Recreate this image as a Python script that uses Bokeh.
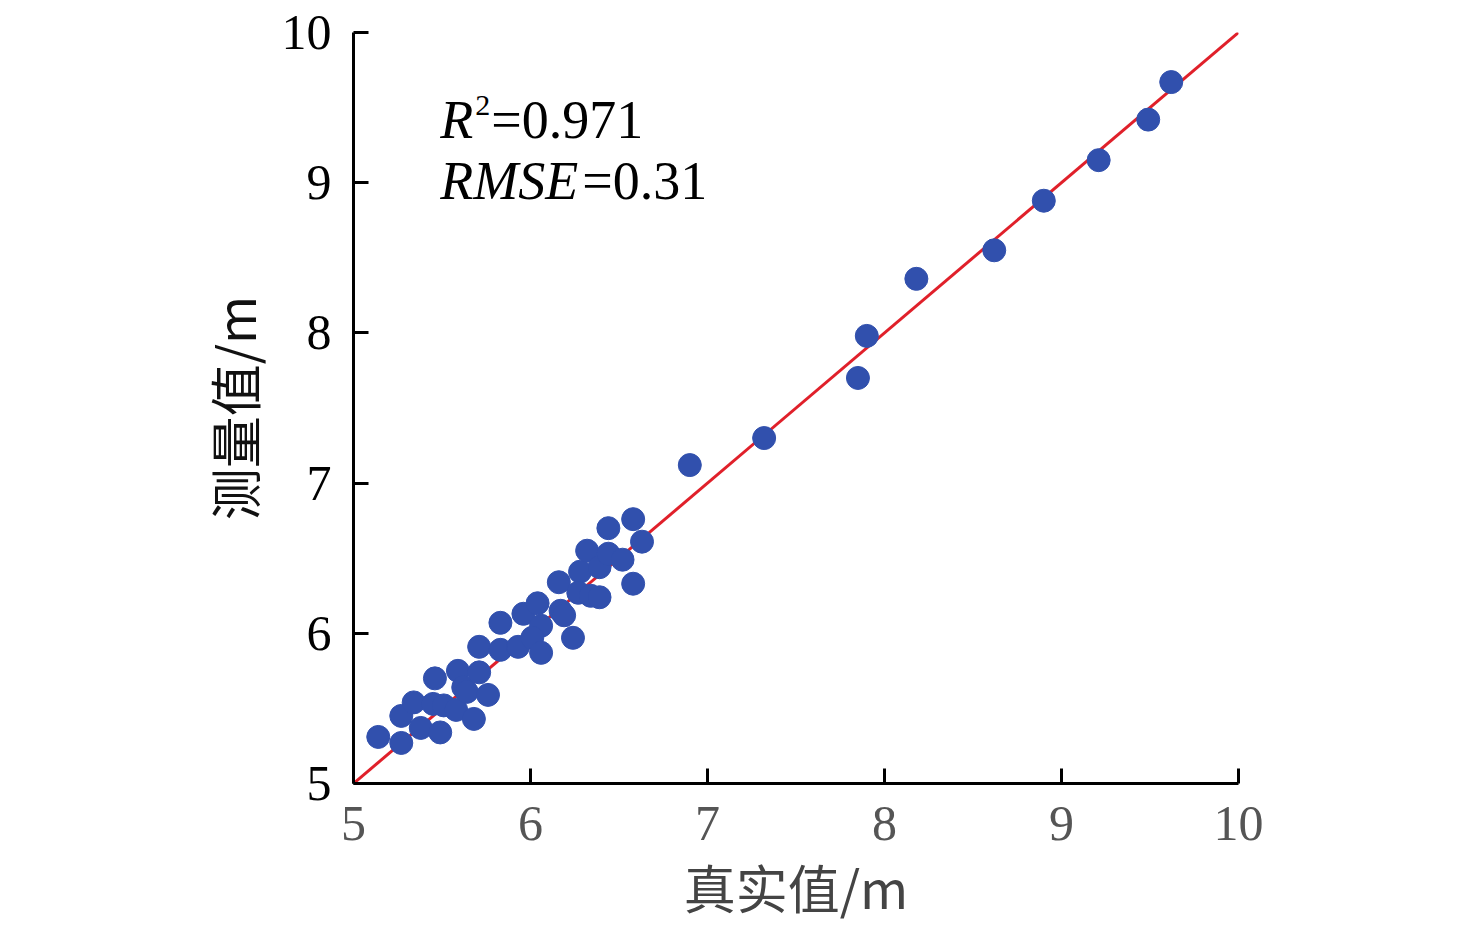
from bokeh.plotting import figure
from bokeh.models import Range1d, FixedTicker
from bokeh.embed import file_html
from bokeh.resources import INLINE
from bokeh.core.properties import value

# ---- data ----
true_vals = [5.14, 5.27, 5.27, 5.34, 5.38, 5.45, 5.49, 5.46, 5.51, 5.58,
             5.59, 5.62, 5.64, 5.68, 5.71, 5.76, 5.71, 5.83, 5.83, 5.93,
             5.96, 6.04, 6.06, 6.01, 6.06, 6.16, 6.17, 6.19, 6.24, 6.28,
             6.27, 6.32, 6.34, 6.39, 6.39, 6.44, 6.44, 6.52, 6.58, 6.58,
             6.63, 6.90, 7.32, 7.85, 7.90, 8.18, 8.62, 8.90, 9.21, 9.49,
             9.62]
meas_vals = [5.31, 5.27, 5.45, 5.54, 5.37, 5.53, 5.34, 5.70, 5.52, 5.49,
             5.75, 5.64, 5.61, 5.43, 5.74, 5.59, 5.91, 6.07, 5.89, 5.91,
             6.13, 6.20, 6.05, 5.97, 5.87, 6.34, 6.15, 6.12, 5.97, 6.41,
             6.27, 6.55, 6.25, 6.24, 6.44, 6.53, 6.70, 6.49, 6.33, 6.76,
             6.61, 7.12, 7.30, 7.70, 7.98, 8.36, 8.55, 8.88, 9.15, 9.42,
             9.67]
line_x = [5, 10]
line_y = [5, 10]
ticks = [5, 6, 7, 8, 9, 10]
x_title = "真实值/m"
y_title = "测量值/m"
r2_value = "0.971"
rmse_value = "0.31"

SERIF = "Liberation Serif"
CJK = "Noto Sans CJK SC"

p = figure(width=1476, height=928, output_backend="svg", toolbar_location=None,
           x_range=Range1d(5, 10), y_range=Range1d(5, 10),
           min_border_left=353, min_border_right=238,
           min_border_top=32, min_border_bottom=145)
p.outline_line_color = None
p.grid.visible = False
p.background_fill_color = "white"
p.border_fill_color = "white"

for ax in (p.xaxis[0], p.yaxis[0]):
    ax.ticker = FixedTicker(ticks=ticks)
    ax.minor_tick_line_color = None
    ax.major_tick_in = 15
    ax.major_tick_out = 0
    ax.major_tick_line_width = 3
    ax.axis_line_width = 3
    ax.axis_line_color = "black"
    ax.major_tick_line_color = "black"
    ax.major_label_text_font = SERIF
    ax.major_label_text_font_size = "50px"
    ax.axis_label_text_font = CJK
    ax.axis_label_text_font_size = "52px"
    ax.axis_label_text_font_style = "normal"

p.yaxis[0].major_label_text_color = "black"
p.yaxis[0].major_label_standoff = 22
p.yaxis[0].axis_label = y_title
p.yaxis[0].axis_label_text_color = "#111111"
p.yaxis[0].axis_label_standoff = 8

p.xaxis[0].major_label_text_color = "#555555"
p.xaxis[0].major_label_standoff = 23
p.xaxis[0].axis_label = x_title
p.xaxis[0].axis_label_text_color = "#444444"
p.xaxis[0].axis_label_standoff = 6

p.line(line_x, line_y, line_color="#e0202a", line_width=3)
p.scatter(true_vals, meas_vals, size=23, fill_color="#3150ad", line_color="#3150ad")

# statistics annotation
ann_x = 5.49
ann_y1 = 9.42
ann_y2 = 9.01
stat_font = value(SERIF)
p.text(x=[ann_x], y=[ann_y1], text=["R"], text_font=stat_font, text_font_size="54px",
       text_font_style="italic", text_baseline="alphabetic", text_color="black")
p.text(x=[ann_x], y=[ann_y1], text=["2"], text_font=stat_font, text_font_size="30px",
       x_offset=35, y_offset=-14, text_baseline="alphabetic", text_color="black")
p.text(x=[ann_x], y=[ann_y1], text=["=" + r2_value], text_font=stat_font, text_font_size="54px",
       x_offset=51, text_baseline="alphabetic", text_color="black")
p.text(x=[ann_x], y=[ann_y2], text=["RMSE"], text_font=stat_font, text_font_size="54px",
       text_font_style="italic", text_baseline="alphabetic", text_color="black")
p.text(x=[ann_x], y=[ann_y2], text=["=" + rmse_value], text_font=stat_font, text_font_size="54px",
       x_offset=142, text_baseline="alphabetic", text_color="black")

open("out.html", "w").write(file_html(p, INLINE))
